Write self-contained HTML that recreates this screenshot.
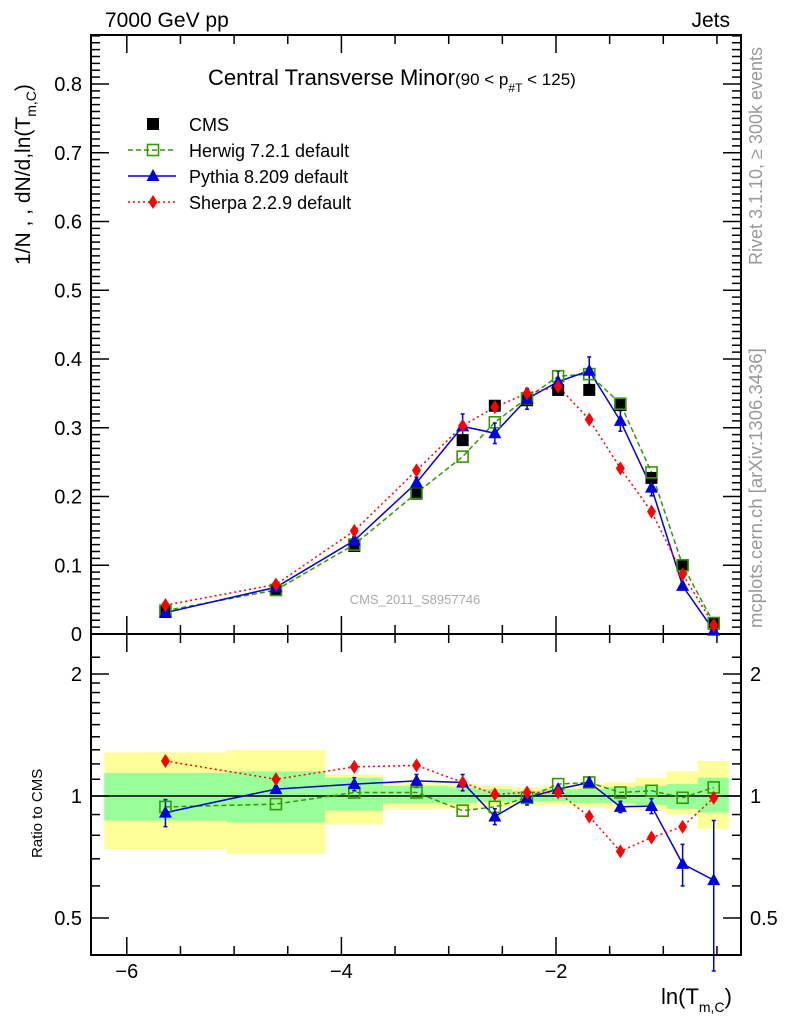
<!DOCTYPE html>
<html><head><meta charset="utf-8"><style>
body{margin:0;background:#fff}
svg{display:block;font-family:"Liberation Sans",sans-serif}
</style></head><body>
<svg id="c" width="786" height="1024" viewBox="0 0 786 1024" xmlns="http://www.w3.org/2000/svg">
<g id="bands"></g>
<g id="axes"></g>
<g id="series"></g>
<text x="105" y="27" font-size="21">7000 GeV pp</text>
<text x="730" y="27" font-size="21" text-anchor="end">Jets</text>
<text x="208" y="85" font-size="22">Central Transverse Minor<tspan font-size="17">(90 &lt; p</tspan><tspan font-size="12" dy="7">#T</tspan><tspan font-size="17" dy="-7">  &lt; 125)</tspan></text>
<text x="415" y="604" font-size="13" fill="#aaa" text-anchor="middle">CMS_2011_S8957746</text>
<text transform="translate(762,265) rotate(-90)" font-size="18" fill="#999">Rivet 3.1.10, ≥ 300k events</text>
<text transform="translate(762,628) rotate(-90)" font-size="18.5" fill="#999">mcplots.cern.ch [arXiv:1306.3436]</text>
<text transform="translate(30,265) rotate(-90)" font-size="21">1/N , , dN/d,ln(T<tspan font-size="14" dy="6">m,C</tspan><tspan dy="-6">)</tspan></text>
<text transform="translate(42,858) rotate(-90)" font-size="15">Ratio to CMS</text>
<text x="661" y="1004" font-size="22">ln(T<tspan font-size="14" dy="8">m,C</tspan><tspan dy="-8">)</tspan></text>
<g id="legend"></g>
</svg>
<script>
const xCenters=[-5.64,-4.61,-3.88,-3.30,-2.87,-2.57,-2.27,-1.98,-1.69,-1.40,-1.11,-0.82,-0.53];
const binEdges=[-6.21,-5.07,-4.15,-3.61,-3.0,-2.74,-2.41,-2.13,-1.84,-1.55,-1.26,-0.97,-0.68,-0.39];
const cmsVals=[0.032,0.064,0.128,0.204,0.282,0.332,0.340,0.355,0.355,0.333,0.227,0.100,0.015];
const herwigVals=[0.034,0.064,0.130,0.205,0.258,0.308,0.343,0.375,0.378,0.335,0.235,0.100,0.016];
const pythiaVals=[0.031,0.068,0.136,0.220,0.302,0.292,0.342,0.367,0.383,0.310,0.213,0.070,0.005];
const pythiaErr=[0.003,0.004,0.006,0.008,0.018,0.015,0.015,0.015,0.02,0.015,0.012,0.005,0.004];
const sherpaVals=[0.042,0.072,0.150,0.238,0.303,0.330,0.350,0.360,0.312,0.241,0.178,0.087,0.013];
const herwigRatio=[0.94,0.955,1.02,1.02,0.92,0.94,0.99,1.07,1.08,1.02,1.03,0.99,1.05];
const pythiaRatio=[0.91,1.04,1.07,1.09,1.08,0.89,0.99,1.04,1.08,0.94,0.945,0.68,0.62];
const pythiaRatioErr=[0.07,0.02,0.04,0.04,0.05,0.04,0.04,0.02,0.03,0.03,0.04,0.08,0.25];
const sherpaRatio=[1.22,1.10,1.18,1.19,1.08,1.01,1.02,1.02,0.89,0.73,0.79,0.84,0.99];
const yellowHi=[1.28,1.30,1.13,1.08,1.07,1.06,1.05,1.06,1.07,1.08,1.11,1.15,1.22];
const yellowLo=[0.74,0.72,0.85,0.93,0.93,0.94,0.95,0.95,0.94,0.93,0.92,0.90,0.83];
const greenHi=[1.14,1.15,1.11,1.06,1.05,1.04,1.03,1.04,1.04,1.05,1.06,1.07,1.11];
const greenLo=[0.87,0.86,0.92,0.96,0.96,0.97,0.97,0.97,0.96,0.96,0.95,0.93,0.91];
const xTicks=[-6,-4,-2];
const yTicks=[0,0.1,0.2,0.3,0.4,0.5,0.6,0.7,0.8];
const rTicks=[0.5,1,2];

const NS="http://www.w3.org/2000/svg";
const L=91,R=741,T=35,M=634,B=955;
const X=v=>556+(v+2)*107.3;
const Y=v=>M-v*687.5;
const YR=r=>796-Math.log2(r)*122;
function mk(tag,attrs,parent){const e=document.createElementNS(NS,tag);for(const k in attrs)e.setAttribute(k,attrs[k]);parent.appendChild(e);return e;}
const axes=document.getElementById('axes'),bands=document.getElementById('bands'),ser=document.getElementById('series'),leg=document.getElementById('legend');

for(let i=0;i<xCenters.length;i++){
  const x0=X(binEdges[i]),x1=X(binEdges[i+1]);
  const y=mk('rect',{x:x0,y:YR(yellowHi[i]),width:x1-x0,height:YR(yellowLo[i])-YR(yellowHi[i]),fill:'#ffff99'},bands);
  
  
  const g=mk('rect',{x:x0,y:YR(greenHi[i]),width:x1-x0,height:YR(greenLo[i])-YR(greenHi[i]),fill:'#99ff99'},bands);
  
  
}
for(const [t,b] of [[T,M],[M,B]]){
  const f=mk('rect',{x:L,y:t,width:R-L,height:b-t,fill:'none',stroke:'#000','stroke-width':2},axes);
  
  
}
mk('line',{x1:L,x2:R,y1:YR(1),y2:YR(1),stroke:'#000','stroke-width':1.5},axes);
for(let v=-6.2;v<=-0.2;v+=0.5){
  const vv=Math.round(v*2)/2; if(vv<-6.3)continue;
  const major=Number.isInteger(vv)&&vv%2===0;
  const len=major?18:9,x=X(vv);
  if(x<L||x>R)continue;
  for(const [t,b] of [[T,M],[M,B]]){
    mk('line',{x1:x,x2:x,y1:b,y2:b-len,stroke:'#000','stroke-width':1.5},axes);
    mk('line',{x1:x,x2:x,y1:t,y2:t+len,stroke:'#000','stroke-width':1.5},axes);
  }
}
xTicks.forEach(v=>{const t=mk('text',{x:X(v),y:978,'font-size':20,'text-anchor':'middle'},axes);t.textContent='−'+Math.abs(v);
  
  });
for(let k=0;k<=87;k++){
  const v=k/100,y=Y(v);if(y<T)continue;const major=k%10===0;const len=major?18:9;
  mk('line',{x1:L,x2:L+len,y1:y,y2:y,stroke:'#000','stroke-width':1.5},axes);
  mk('line',{x1:R,x2:R-len,y1:y,y2:y,stroke:'#000','stroke-width':1.5},axes);
}
yTicks.forEach(v=>{const t=mk('text',{x:82,y:Y(v)+7,'font-size':20,'text-anchor':'end'},axes);t.textContent=v===0?'0':v.toFixed(1);
  
  });
const rMinor=[0.4,0.5,0.6,0.7,0.8,0.9,1,1.1,1.2,1.3,1.4,1.5,1.6,1.7,1.8,1.9,2,2.2];
rMinor.forEach(r=>{const y=YR(r);if(y<M||y>B)return;const len=rTicks.includes(r)?18:9;
  mk('line',{x1:L,x2:L+len,y1:y,y2:y,stroke:'#000','stroke-width':1.5},axes);
  mk('line',{x1:R,x2:R-len,y1:y,y2:y,stroke:'#000','stroke-width':1.5},axes);});
rTicks.forEach(r=>{
  const t=mk('text',{x:82,y:YR(r)+7,'font-size':20,'text-anchor':'end'},axes);t.textContent=String(r);
  
  
  const t2=mk('text',{x:750,y:YR(r)+7,'font-size':20},axes);t2.textContent=String(r);
  
  
});

function marker(type,x,y,col,p){
  let e;
  if(type==='sq')e=mk('rect',{x:x-6,y:y-6,width:12,height:12,fill:'#000'},p);
  else if(type==='osq')e=mk('rect',{x:x-5.5,y:y-5.5,width:11,height:11,fill:'none',stroke:col,'stroke-width':1.6},p);
  else if(type==='tri')e=mk('polygon',{points:`${x},${y-7} ${x-6.5},${y+5} ${x+6.5},${y+5}`,fill:col},p);
  else e=mk('polygon',{points:`${x},${y-7} ${x-4.5},${y} ${x},${y+7} ${x+4.5},${y}`,fill:col},p);
  return e;
}
function line(vals,yf,col,dash,p,name){
  const pts=vals.map((v,i)=>X(xCenters[i])+','+yf(v)).join(' ');
  const e=mk('polyline',{points:pts,fill:'none',stroke:col,'stroke-width':1.5,'stroke-dasharray':dash},p);
  
  
}
function errs(vals,err,yf,col,p){
  vals.forEach((v,i)=>{const x=X(xCenters[i]);const y1=yf(v+err[i]),y2=yf(Math.max(v-err[i],0.01));
    mk('line',{x1:x,x2:x,y1:y1,y2:y2,stroke:col,'stroke-width':1.5},p);
    mk('line',{x1:x-2,x2:x+2,y1:y1,y2:y1,stroke:col,'stroke-width':1.5},p);
    mk('line',{x1:x-2,x2:x+2,y1:y2,y2:y2,stroke:col,'stroke-width':1.5},p);});
}
function pts(vals,yf,type,col,p,name){
  vals.forEach((v,i)=>{const e=marker(type,X(xCenters[i]),yf(v),col,p);
    
    });
}
line(herwigVals,Y,'#339900','5,3',ser,'herwig-line');
line(pythiaVals,Y,'#0000dd','',ser,'pythia-line');
line(sherpaVals,Y,'#ff0000','2,3',ser,'sherpa-line');
errs(pythiaVals,pythiaErr,Y,'#0000dd',ser);
pts(cmsVals,Y,'sq','#000',ser,'cms-point');
pts(herwigVals,Y,'osq','#339900',ser,'herwig-point');
pts(pythiaVals,Y,'tri','#0000dd',ser,'pythia-point');
pts(sherpaVals,Y,'dia','#ff0000',ser,'sherpa-point');
line(herwigRatio,YR,'#339900','5,3',ser,'herwig-ratio-line');
line(pythiaRatio,YR,'#0000dd','',ser,'pythia-ratio-line');
line(sherpaRatio,YR,'#ff0000','2,3',ser,'sherpa-ratio-line');
errs(pythiaRatio,pythiaRatioErr,YR,'#0000dd',ser);
pts(herwigRatio,YR,'osq','#339900',ser,'herwig-ratio-point');
pts(pythiaRatio,YR,'tri','#0000dd',ser,'pythia-ratio-point');
pts(sherpaRatio,YR,'dia','#ff0000',ser,'sherpa-ratio-point');
const legItems=[['CMS','sq','#000',''],['Herwig 7.2.1 default','osq','#339900','5,3'],['Pythia 8.209 default','tri','#0000dd',''],['Sherpa 2.2.9 default','dia','#ff0000','2,3']];
legItems.forEach((it,i)=>{const y=124+i*26;
  const g=mk('g',{},leg);
  
  
  if(i>0)mk('line',{x1:128,x2:176,y1:y,y2:y,stroke:it[2],'stroke-width':1.5,'stroke-dasharray':it[3]},g);
  marker(it[1],153,y,it[2],g);
  const t=mk('text',{x:189,y:y+7,'font-size':18},g);t.textContent=it[0];});
</script>
</body></html>
